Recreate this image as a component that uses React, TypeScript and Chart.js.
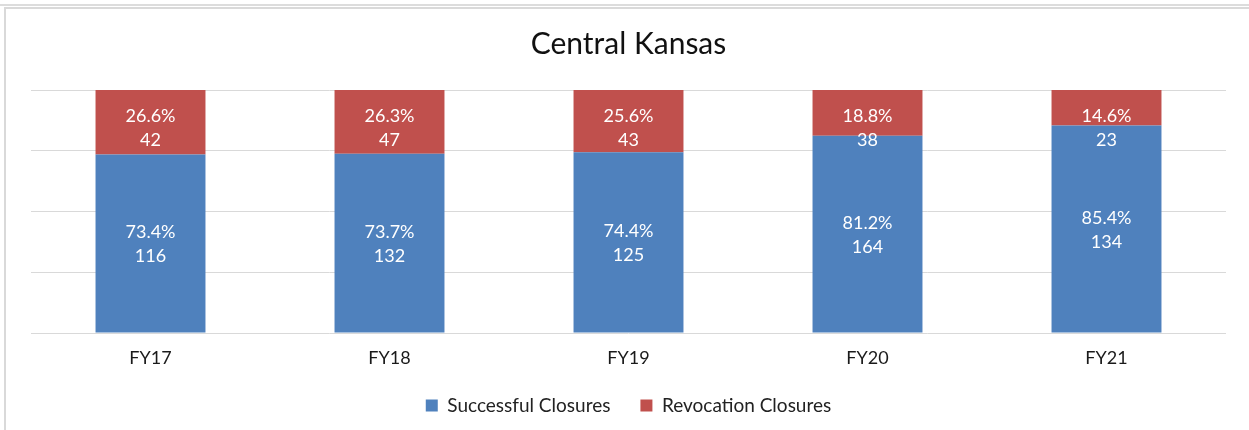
import React, { useEffect, useRef } from "react";
import { Chart, registerables } from "chart.js";

Chart.register(...registerables);

const categories = ["FY17", "FY18", "FY19", "FY20", "FY21"];
const successfulCounts = [116, 132, 125, 164, 134];
const revocationCounts = [42, 47, 43, 38, 23];
const seriesNames = ["Successful Closures", "Revocation Closures"];
const yTicks = [0, 25, 50, 75, 100];

const FONT = "Lato, 'Open Sans', sans-serif";

const totals = categories.map((_, i) => successfulCounts[i] + revocationCounts[i]);
const successfulPct = successfulCounts.map((v, i) => (v / totals[i]) * 100);
const revocationPct = revocationCounts.map((v, i) => (v / totals[i]) * 100);
const countsBySeries = [successfulCounts, revocationCounts];
const pctBySeries = [successfulPct, revocationPct];

const labelPlugin = {
  id: "stackLabels",
  afterDatasetsDraw(chart: any) {
    const ctx = chart.ctx;
    ctx.save();
    ctx.fillStyle = "#ffffff";
    ctx.font = `18px ${FONT}`;
    ctx.textAlign = "center";
    ctx.textBaseline = "middle";
    chart.data.datasets.forEach((_: any, di: number) => {
      const meta = chart.getDatasetMeta(di);
      meta.data.forEach((bar: any, i: number) => {
        const { x, y, base } = bar.getProps(["x", "y", "base"], true);
        const cy = di === 0 ? (y + base) / 2 + 1 : y + 38;
        ctx.fillText(pctBySeries[di][i].toFixed(1) + "%", x, cy - 12);
        ctx.fillText(String(countsBySeries[di][i]), x, cy + 12);
      });
    });
    ctx.restore();
  },
};

export default function App() {
  const canvasRef = useRef<HTMLCanvasElement | null>(null);

  useEffect(() => {
    document.body.style.margin = "0";
    const canvas = canvasRef.current;
    if (!canvas) return;
    const chart = new Chart(canvas, {
      type: "bar",
      data: {
        labels: categories,
        datasets: [
          {
            label: seriesNames[0],
            data: successfulPct,
            backgroundColor: "#4F81BD",
            borderWidth: 0,
          },
          {
            label: seriesNames[1],
            data: revocationPct,
            backgroundColor: "#C0504D",
            borderWidth: 0,
          },
        ],
      },
      options: {
        animation: false,
        responsive: false,
        maintainAspectRatio: false,
        layout: { padding: { left: 31, right: 23, top: 7, bottom: 5 } },
        datasets: {
          bar: { categoryPercentage: 1, barPercentage: 0.46 },
        },
        scales: {
          x: {
            stacked: true,
            grid: { display: false, drawTicks: false },
            border: { display: false },
            ticks: {
              color: "#1a1a1a",
              font: { family: FONT, size: 18 },
              padding: 14,
            },
            afterFit: (axis: any) => {
              axis.height = 33;
            },
          },
          y: {
            stacked: true,
            min: 0,
            max: 100,
            grid: { color: "#d9d9d9", lineWidth: 1, drawTicks: false },
            border: { display: false },
            afterBuildTicks: (axis: any) => {
              axis.ticks = yTicks.map((v) => ({ value: v }));
            },
            ticks: { display: false, stepSize: 25 },
            afterFit: (axis: any) => {
              axis.width = 0;
            },
          },
        },
        plugins: {
          title: {
            display: true,
            text: "Central Kansas",
            color: "#111",
            font: { family: FONT, size: 30, weight: "normal" },
            padding: { top: 19, bottom: 28 },
          },
          legend: {
            display: true,
            position: "bottom",
            labels: {
              boxWidth: 12,
              boxHeight: 12,
              padding: 30,
              color: "#222",
              font: { family: FONT, size: 19 },
            },
          },
          tooltip: { enabled: false },
        },
      },
      plugins: [labelPlugin],
    });
    return () => chart.destroy();
  }, []);

  return (
    <div style={{ position: "relative", width: 1249, height: 430, overflow: "hidden", background: "#fff" }}>
      <div style={{ position: "absolute", left: 0, right: 0, top: 4, height: 2, background: "#dcdcdc" }} />
      <div
        style={{
          position: "absolute",
          left: 4,
          right: -10,
          top: 7,
          bottom: -10,
          borderLeft: "2px solid #d9d9d9",
          borderTop: "2px solid #d9d9d9",
        }}
      />
      <canvas
        ref={canvasRef}
        width={1249}
        height={430}
        style={{ position: "absolute", left: 0, top: 0, width: 1249, height: 430 }}
      />
    </div>
  );
}
